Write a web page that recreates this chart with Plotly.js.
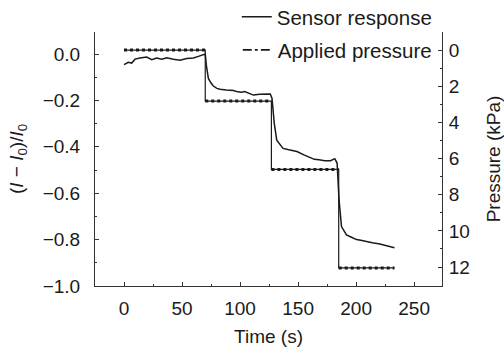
<!DOCTYPE html>
<html><head><meta charset="utf-8">
<script src="https://cdn.plot.ly/plotly-3.0.1.min.js"></script>
<style>html,body{margin:0;padding:0;background:#fff}#chart{width:504px;height:347px}</style>
</head><body><div id="chart"></div>
<script>
const sensorTime = [0, 2, 3.7, 6.6, 9.5, 13.8, 19.5, 23.9, 28.2, 32.5, 36.8, 42.5, 48.3, 54, 59.8, 64.1, 69, 70,
  71, 72.7, 75, 77, 80, 82.8, 88, 94.3, 98, 101.5, 104, 108, 111.5, 117, 122, 126, 127.5,
  129.5, 131.6, 133, 134.8, 137, 142, 149, 155, 160, 164, 168, 173, 178, 181.6, 183.6,
  185.3, 187.4, 189.5, 191.7, 196, 200.3, 204, 208.9, 214, 220.4, 226, 231.9, 233];
const sensorResponse = [-0.046, -0.042, -0.036, -0.039, -0.022, -0.017, -0.013, -0.024, -0.017, -0.022, -0.016, -0.022, -0.027, -0.019, -0.017, -0.010, -0.002, 0.0,
  -0.05, -0.105, -0.125, -0.138, -0.148, -0.152, -0.155, -0.157, -0.163, -0.165, -0.162, -0.17, -0.177, -0.173, -0.171, -0.172, -0.19,
  -0.30, -0.371, -0.38, -0.39, -0.407, -0.413, -0.42, -0.435, -0.445, -0.454, -0.456, -0.46, -0.46, -0.451, -0.47,
  -0.63, -0.744, -0.765, -0.78, -0.79, -0.80, -0.803, -0.809, -0.814, -0.819, -0.826, -0.833, -0.835];
const pressureTime = [0, 70, 70, 127, 127, 185, 185, 233];
const appliedPressure = [0, 0, 2.82, 2.82, 6.6, 6.6, 12.05, 12.05];
const xTicks = [0, 50, 100, 150, 200, 250];
const yTicks = [-1.0, -0.8, -0.6, -0.4, -0.2, 0.0];
const pTicks = [0, 2, 4, 6, 8, 10, 12];

// horizontal plateaus of the applied pressure (for the dotted look)
const plateauX = [], plateauY = [];
for (let i = 0; i < pressureTime.length; i += 2) {
  plateauX.push(pressureTime[i], pressureTime[i + 1], null);
  plateauY.push(appliedPressure[i], appliedPressure[i + 1], null);
}

const FONT = 'Liberation Sans, Arial, Helvetica, sans-serif';
const ink = '#1a1a1a';

const traces = [
  {x: pressureTime, y: appliedPressure, yaxis: 'y2', mode: 'lines', line: {color: ink, width: 1.2}, showlegend: false, hoverinfo: 'skip'},
  {x: plateauX, y: plateauY, yaxis: 'y2', mode: 'lines', line: {color: ink, width: 3, dash: 'dot'}, showlegend: false, connectgaps: false},
  {x: sensorTime, y: sensorResponse, mode: 'lines', name: 'Sensor response', line: {color: ink, width: 1.5}, legend: 'legend'},
  {x: [null], y: [null], yaxis: 'y2', mode: 'lines', name: 'Applied pressure', line: {color: ink, width: 1.6, dash: 'dashdot'}, legend: 'legend2'}
];

const axisCommon = {
  showline: true, linecolor: '#333', linewidth: 1, showgrid: false, zeroline: false,
  ticks: 'inside', ticklen: 4, tickcolor: '#333', tickwidth: 1,
  tickfont: {family: FONT, size: 19, color: ink}
};

const layout = {
  width: 504, height: 347,
  margin: {l: 95, r: 62, t: 32, b: 61, autoexpand: false},
  paper_bgcolor: '#fff', plot_bgcolor: '#fff',
  font: {family: FONT, color: ink},
  xaxis: Object.assign({}, axisCommon, {
    range: [-25, 274], tickvals: xTicks, ticklabelstandoff: 5,
    minor: {dtick: 25, tick0: 0, ticks: 'inside', ticklen: 2, tickcolor: '#333'},
    title: {text: 'Time (s)', font: {family: FONT, size: 19, color: ink}, standoff: 15}
  }),
  yaxis: Object.assign({}, axisCommon, {
    range: [-1.0, 0.095], tickvals: yTicks, tickformat: '.1f', ticklabelstandoff: 10,
    minor: {dtick: 0.1, tick0: 0, ticks: 'inside', ticklen: 2, tickcolor: '#333'},
    title: {text: '(<i>I</i> − <i>I</i><sub>0</sub>)/<i>I</i><sub>0</sub>', font: {family: FONT, size: 19, color: ink}, standoff: 14}
  }),
  yaxis2: Object.assign({}, axisCommon, {
    overlaying: 'y', side: 'right', range: [13.05, -1.0], tickvals: pTicks, ticklabelstandoff: 2,
    minor: {dtick: 1, tick0: 0, ticks: 'inside', ticklen: 2, tickcolor: '#333'},
    title: {text: 'Pressure (kPa)', font: {family: FONT, size: 19, color: ink}, standoff: 22}
  }),
  legend: {x: 0.985, xanchor: 'right', y: 1.059, yanchor: 'middle', bgcolor: 'rgba(0,0,0,0)',
    font: {family: FONT, size: 20.5, color: ink}},
  legend2: {x: 0.985, xanchor: 'right', y: 0.929, yanchor: 'middle', bgcolor: 'rgba(0,0,0,0)',
    font: {family: FONT, size: 20.5, color: ink}},
  showlegend: true
};

Plotly.newPlot('chart', traces, layout, {displayModeBar: false, staticPlot: true});
</script>
</body></html>
